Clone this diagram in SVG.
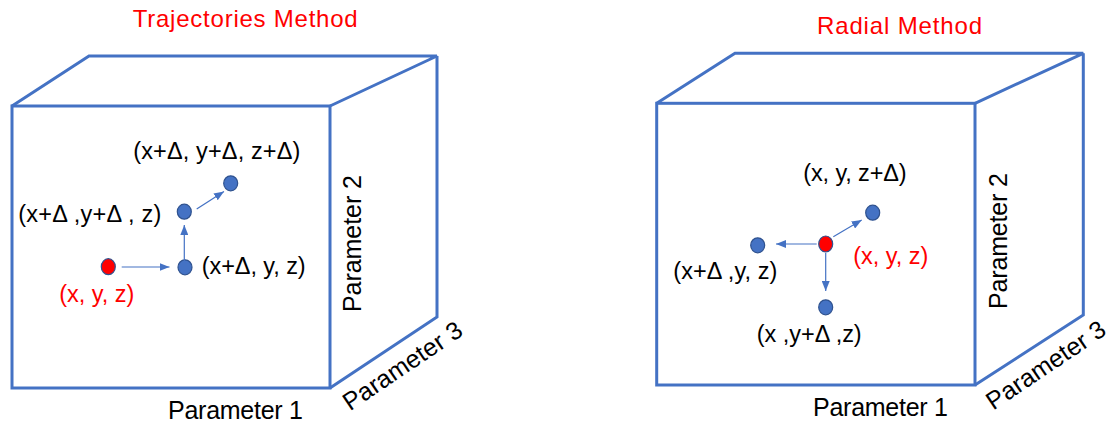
<svg xmlns="http://www.w3.org/2000/svg" width="1113" height="428" viewBox="0 0 1113 428">
  <style>
    .cube { fill: none; stroke: #4472C4; stroke-width: 3; stroke-linejoin: miter; }
    .lbl { font-family: "Liberation Sans", Arial, sans-serif; font-size: 23.5px; fill: #000; }
    .red { fill: #FF0000; }
    .title { font-family: "Liberation Sans", Arial, sans-serif; font-size: 24px; fill: #FF0000; }
    .param { font-family: "Liberation Sans", Arial, sans-serif; font-size: 25px; fill: #000; }
    .dot { fill: #4472C4; stroke: #2F528F; stroke-width: 1.2; }
    .rdot { fill: #FF0000; stroke: #2F528F; stroke-width: 1.2; }
    .arr { stroke: #4472C4; stroke-width: 1.2; fill: none; marker-end: url(#ah); }
  </style>
  <defs>
    <marker id="ah" markerUnits="userSpaceOnUse" markerWidth="10" markerHeight="8" refX="10" refY="4" orient="auto">
      <path d="M0,0 L10,4 L0,8 z" fill="#4472C4"/>
    </marker>
  </defs>
  <rect width="1113" height="428" fill="#fff"/>

  <g id="trajectories-cube">
    <text class="title" x="132.7" y="26.7" textLength="225">Trajectories Method</text>
    <rect class="cube" x="12" y="106" width="318" height="282"/>
    <path class="cube" d="M12,106 L89,56 L437,56 L330,106"/>
    <path class="cube" d="M437,56 L437,317 L330,388"/>
    <text class="param" x="168" y="419" textLength="135">Parameter 1</text>
    <text class="param" transform="translate(360.7,312) rotate(-90)" textLength="137">Parameter 2</text>
    <text class="param" transform="translate(350,411.5) rotate(-34)" textLength="138">Parameter 3</text>
  </g>

  <g id="t-origin">
    <ellipse class="rdot" cx="108.3" cy="266.7" rx="7" ry="8"/>
    <text class="lbl red" x="59.3" y="302" textLength="75">(x, y, z)</text>
  </g>
  <g id="t-x">
    <ellipse class="dot" cx="185" cy="267.3" rx="7" ry="7.5"/>
    <text class="lbl" x="201.7" y="274" textLength="104">(x+Δ, y, z)</text>
  </g>
  <g id="t-xy">
    <ellipse class="dot" cx="184.3" cy="211.7" rx="7" ry="7.5"/>
    <text class="lbl" x="18.3" y="222" textLength="143">(x+Δ ,y+Δ , z)</text>
  </g>
  <g id="t-xyz">
    <ellipse class="dot" cx="230.7" cy="183.3" rx="7" ry="7.5"/>
    <text class="lbl" x="133.3" y="159" textLength="167">(x+Δ, y+Δ, z+Δ)</text>
  </g>

  <g id="radial-cube">
    <text class="title" x="817" y="34" textLength="165">Radial Method</text>
    <rect class="cube" x="656.7" y="103.3" width="318.3" height="281.7"/>
    <path class="cube" d="M656.7,103.3 L735,53.3 L1083.3,53.3 L975,103.3"/>
    <path class="cube" d="M1083.3,53.3 L1083.3,315 L975,385"/>
    <text class="param" x="813" y="416" textLength="135">Parameter 1</text>
    <text class="param" transform="translate(1007,309) rotate(-90)" textLength="136">Parameter 2</text>
    <text class="param" transform="translate(993.3,410.7) rotate(-34)" textLength="138">Parameter 3</text>
  </g>

  <g id="r-origin">
    <ellipse class="rdot" cx="825.7" cy="244" rx="7" ry="8"/>
    <text class="lbl red" x="853.3" y="264" textLength="75">(x, y, z)</text>
  </g>
  <g id="r-x">
    <ellipse class="dot" cx="757.7" cy="245.3" rx="7" ry="7.5"/>
    <text class="lbl" x="673.3" y="279" textLength="104">(x+Δ ,y, z)</text>
  </g>
  <g id="r-y">
    <ellipse class="dot" cx="825.7" cy="307.3" rx="7" ry="7.5"/>
    <text class="lbl" x="756.7" y="342" textLength="105">(x ,y+Δ ,z)</text>
  </g>
  <g id="r-z">
    <ellipse class="dot" cx="872.7" cy="212.7" rx="7" ry="7.5"/>
    <text class="lbl" x="803.3" y="181" textLength="103.4">(x, y, z+Δ)</text>
  </g>

  <g id="connectors">
    <line class="arr" x1="121.7" y1="267" x2="169.5" y2="267"/>
    <line class="arr" x1="184.3" y1="261" x2="184.3" y2="225"/>
    <line class="arr" x1="196.7" y1="209" x2="224" y2="191.5"/>
    <line class="arr" x1="816.7" y1="244" x2="776" y2="244"/>
    <line class="arr" x1="825.7" y1="253" x2="825.7" y2="291"/>
    <line class="arr" x1="833.3" y1="236.7" x2="861.7" y2="220"/>
  </g>
</svg>
